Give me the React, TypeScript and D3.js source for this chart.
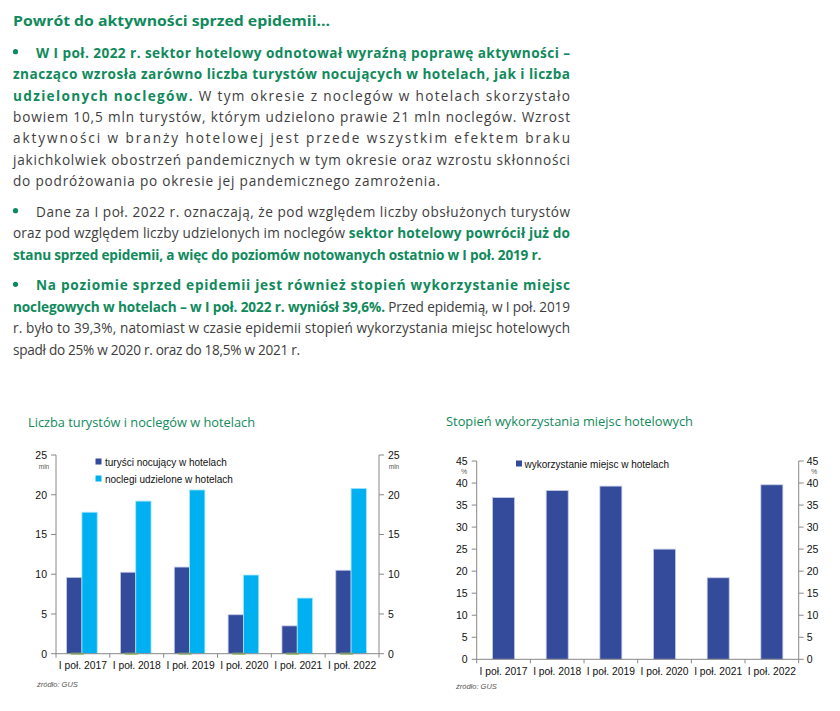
import React from 'react';
import * as d3 from 'd3';

const categories = ['I poł. 2017', 'I poł. 2018', 'I poł. 2019', 'I poł. 2020', 'I poł. 2021', 'I poł. 2022'];
const tourists = [9.6, 10.25, 10.9, 4.9, 3.5, 10.5];
const nights = [17.8, 19.2, 20.6, 9.9, 7.0, 20.8];
const auxSeries = [0, 0, 0, 0, 0, 0];
const occupancy = [36.7, 38.3, 39.3, 25.0, 18.5, 39.6];
const leftTicks = [0, 5, 10, 15, 20, 25];
const rightTicks = [0, 5, 10, 15, 20, 25, 30, 35, 40, 45];

const heading = 'Powrót do aktywności sprzed epidemii...';
type Seg = { t: string; b?: boolean };
const para1: Seg[][] = [
  [{ t: 'W I poł. 2022 r. sektor hotelowy odnotował wyraźną poprawę aktywności –', b: true }],
  [{ t: 'znacząco wzrosła zarówno liczba turystów nocujących w hotelach, jak i liczba', b: true }],
  [{ t: 'udzielonych noclegów.', b: true }, { t: ' W tym okresie z noclegów w hotelach skorzystało' }],
  [{ t: 'bowiem 10,5 mln turystów, którym udzielono prawie 21 mln noclegów. Wzrost' }],
  [{ t: 'aktywności w branży hotelowej jest przede wszystkim efektem braku' }],
  [{ t: 'jakichkolwiek obostrzeń pandemicznych w tym okresie oraz wzrostu skłonności' }],
  [{ t: 'do podróżowania po okresie jej pandemicznego zamrożenia.' }],
];
const para2: Seg[][] = [
  [{ t: 'Dane za I poł. 2022 r. oznaczają, że pod względem liczby obsłużonych turystów' }],
  [{ t: 'oraz pod względem liczby udzielonych im noclegów ' }, { t: 'sektor hotelowy powrócił już do', b: true }],
  [{ t: 'stanu sprzed epidemii, a więc do poziomów notowanych ostatnio w I poł. 2019 r.', b: true }],
];
const para3: Seg[][] = [
  [{ t: 'Na poziomie sprzed epidemii jest również stopień wykorzystanie miejsc', b: true }],
  [{ t: 'noclegowych w hotelach – w I poł. 2022 r. wyniósł 39,6%.', b: true }, { t: ' Przed epidemią, w I poł. 2019' }],
  [{ t: 'r. było to 39,3%, natomiast w czasie epidemii stopień wykorzystania miejsc hotelowych' }],
  [{ t: 'spadł do 25% w 2020 r. oraz do 18,5% w 2021 r.' }],
];
// right end of each line (px)
const para1Ends = [570, 570, 570, 570, 570, 570, 440];
const para2Ends = [570, 570, 541.5];
const para3Ends = [570, 570, 570, 300];

const GREEN = '#108a5c';
const TEXT = '#3d3d3d';
const DARK = '#344a9a';
const LIGHT = '#00b0f0';
const AXIS = '#888888';
const BODY_FONT = '"Open Sans", sans-serif';
const CHART_FONT = '"Liberation Sans", Arial, sans-serif';

function Paragraph({ lines, ends, y0 }: { lines: Seg[][]; ends: number[]; y0: number }) {
  const lh = 21.4;
  return (
    <g>
      <circle cx={15.5} cy={y0} r={2.6} fill={GREEN} />
      {lines.map((line, i) => {
        const x = i === 0 ? 36 : 13;
        return (
          <text
            key={i}
            x={x}
            y={y0 + i * lh}
            dominantBaseline="central"
            fontSize={13.6}
            fontFamily={BODY_FONT}
            textLength={ends[i] - x}
            lengthAdjust="spacing"
          >
            {line.map((s, j) => (
              <tspan key={j} fill={s.b ? GREEN : TEXT} fontWeight={s.b ? 700 : 400}>{s.t}</tspan>
            ))}
          </text>
        );
      })}
    </g>
  );
}

function LeftChart() {
  const x0 = 56, x1 = 379, yb = 653.7, yt = 455;
  const x = d3.scaleBand<string>().domain(categories).range([x0, x1]);
  const y = d3.scaleLinear().domain([0, 25]).range([yb, yt]);
  const sub = d3.scaleBand<string>().domain(['t', 'n']).range([0, x.bandwidth()]).paddingOuter(0.76);
  const bw = sub.bandwidth();
  return (
    <g fontFamily={CHART_FONT}>
      <text x={28} y={421.5} dominantBaseline="central" fill={GREEN} fontSize={12.8} fontFamily={BODY_FONT} textLength={227} lengthAdjust="spacingAndGlyphs">Liczba turystów i noclegów w hotelach</text>
      {categories.map((c, i) => (
        <g key={c}>
          <rect x={(x(c) as number) + (sub('t') as number) - 1} y={y(tourists[i])} width={bw} height={yb - y(tourists[i])} fill={DARK} stroke="#c3cbe6" strokeWidth={0.8} />
          <rect x={(x(c) as number) + (sub('n') as number) - 1} y={y(nights[i])} width={bw} height={yb - y(nights[i])} fill={LIGHT} stroke="#a8e4fa" strokeWidth={0.8} />
          <rect x={(x(c) as number) + x.bandwidth() / 2 - 12} y={y(auxSeries[i]) - 1} width={13} height={2} fill="#8cc04a" />
        </g>
      ))}
      <line x1={x0} x2={x0} y1={yb} y2={yt} stroke={AXIS} />
      <line x1={x1} x2={x1} y1={yb} y2={yt} stroke={AXIS} />
      <line x1={x0} x2={x1} y1={yb} y2={yb} stroke={AXIS} />
      {leftTicks.map((t) => (
        <g key={t}>
          <line x1={x0 - 5} x2={x0} y1={y(t)} y2={y(t)} stroke={AXIS} />
          <text x={x0 - 9} y={y(t)} dominantBaseline="central" textAnchor="end" fontSize={10.5} fill="#111">{t}</text>
          <line x1={x1} x2={x1 + 5} y1={y(t)} y2={y(t)} stroke={AXIS} />
          <text x={x1 + 9} y={y(t)} dominantBaseline="central" fontSize={10.5} fill="#111">{t}</text>
        </g>
      ))}
      {categories.map((c) => (
        <line key={c} x1={x(c)} x2={x(c)} y1={yb} y2={yb + 4} stroke={AXIS} />
      ))}
      <line x1={x1} x2={x1} y1={yb} y2={yb + 4} stroke={AXIS} />
      {categories.map((c) => (
        <text key={c} x={(x(c) as number) + x.bandwidth() / 2} y={yb + 12} dominantBaseline="central" textAnchor="middle" fontSize={10.3} fill="#111">{c}</text>
      ))}
      <text x={44} y={466} textAnchor="middle" dominantBaseline="central" fontSize={6.5} fill="#555">mln</text>
      <text x={394} y={466} textAnchor="middle" dominantBaseline="central" fontSize={6.5} fill="#555">mln</text>
      <rect x={95.5} y={458.5} width={6} height={6} fill={DARK} />
      <text x={105} y={462} dominantBaseline="central" fontSize={10} fill="#111">turyści nocujący w hotelach</text>
      <rect x={95.5} y={475.5} width={6} height={6} fill={LIGHT} />
      <text x={105} y={479} dominantBaseline="central" fontSize={10} fill="#111">noclegi udzielone w hotelach</text>
      <text x={37} y={684} dominantBaseline="central" fontSize={7.5} fontStyle="italic" fill="#555">źródło: GUS</text>
    </g>
  );
}

function RightChart() {
  const x0 = 476.7, x1 = 798.7, yb = 659.3, yt = 461;
  const x = d3.scaleBand<string>().domain(categories).range([x0, x1]);
  const y = d3.scaleLinear().domain([0, 45]).range([yb, yt]);
  const bw = x.bandwidth() * 0.41;
  return (
    <g fontFamily={CHART_FONT}>
      <text x={446} y={421} dominantBaseline="central" fill={GREEN} fontSize={12.8} fontFamily={BODY_FONT} textLength={247} lengthAdjust="spacingAndGlyphs">Stopień wykorzystania miejsc hotelowych</text>
      {categories.map((c, i) => (
        <rect key={c} x={(x(c) as number) + x.bandwidth() / 2 - bw / 2} y={y(occupancy[i])} width={bw} height={yb - y(occupancy[i])} fill={DARK} stroke="#c3cbe6" strokeWidth={0.8} />
      ))}
      <line x1={x0} x2={x0} y1={yb} y2={yt} stroke={AXIS} />
      <line x1={x1} x2={x1} y1={yb} y2={yt} stroke={AXIS} />
      <line x1={x0} x2={x1} y1={yb} y2={yb} stroke={AXIS} />
      {rightTicks.map((t) => (
        <g key={t}>
          <line x1={x0 - 5} x2={x0} y1={y(t)} y2={y(t)} stroke={AXIS} />
          <text x={x0 - 9} y={y(t)} dominantBaseline="central" textAnchor="end" fontSize={10.5} fill="#111">{t}</text>
          <line x1={x1} x2={x1 + 5} y1={y(t)} y2={y(t)} stroke={AXIS} />
          <text x={x1 + 8} y={y(t)} dominantBaseline="central" fontSize={10.5} fill="#111">{t}</text>
        </g>
      ))}
      {categories.map((c) => (
        <line key={c} x1={x(c)} x2={x(c)} y1={yb} y2={yb + 4} stroke={AXIS} />
      ))}
      <line x1={x1} x2={x1} y1={yb} y2={yb + 4} stroke={AXIS} />
      {categories.map((c) => (
        <text key={c} x={(x(c) as number) + x.bandwidth() / 2} y={yb + 12.5} dominantBaseline="central" textAnchor="middle" fontSize={10.3} fill="#111">{c}</text>
      ))}
      <text x={464} y={471.5} textAnchor="middle" dominantBaseline="central" fontSize={7} fill="#555">%</text>
      <text x={814} y={471.5} textAnchor="middle" dominantBaseline="central" fontSize={7} fill="#555">%</text>
      <rect x={516} y={460.5} width={6} height={6} fill={DARK} />
      <text x={524.5} y={464} dominantBaseline="central" fontSize={10} fill="#111">wykorzystanie miejsc w hotelach</text>
      <text x={456} y={686} dominantBaseline="central" fontSize={7.5} fontStyle="italic" fill="#555">źródło: GUS</text>
    </g>
  );
}

export default function App() {
  return (
    <svg width={840} height={711} style={{ position: 'absolute', left: 0, top: 0, background: '#fff' }}>
      <rect width={840} height={711} fill="#fff" />
      <text x={13} y={20} dominantBaseline="central" fill={GREEN} fontSize={15} fontWeight={700} fontFamily={BODY_FONT} textLength={317} lengthAdjust="spacingAndGlyphs">{heading}</text>
      <Paragraph lines={para1} ends={para1Ends} y0={51.7} />
      <Paragraph lines={para2} ends={para2Ends} y0={210.7} />
      <Paragraph lines={para3} ends={para3Ends} y0={284.3} />
      <LeftChart />
      <RightChart />
    </svg>
  );
}
